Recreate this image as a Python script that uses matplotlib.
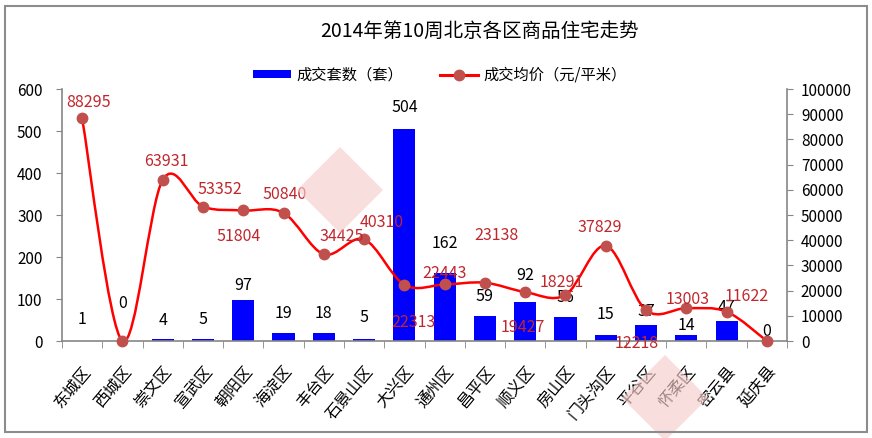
import numpy as np
import matplotlib
matplotlib.use("Agg")
import matplotlib.pyplot as plt
import matplotlib.transforms as mtransforms
from matplotlib.path import Path
from matplotlib.patches import PathPatch, Rectangle, Polygon
from matplotlib.lines import Line2D
from matplotlib.patches import Patch

plt.rcParams['font.family'] = ['Noto Sans CJK SC', 'DejaVu Sans']

# data
districts = ['东城区', '西城区', '崇文区', '宣武区', '朝阳区', '海淀区', '丰台区', '石景山区', '大兴区',
             '通州区', '昌平区', '顺义区', '房山区', '门头沟区', '平谷区', '怀柔区', '密云县', '延庆县']
deals = [1, 0, 4, 5, 97, 19, 18, 5, 504, 162, 59, 92, 56, 15, 37, 14, 47, 0]
prices = [88295, 0, 63931, 53352, 51804, 50840, 34425, 40310, 22313, 22443, 23138, 19427,
          18291, 37829, 12218, 13003, 11622, 0]
title = '2014年第10周北京各区商品住宅走势'

# label offsets in pixels (placement only)
bar_dy = [21, 38, 19, 19, 15, 20, 20, 21, 22, 29, 20, 27, 20, 20, 14, 10, 14, 9]
price_off = [(6, 16), None, (4, 18), (17, 17), (-5, -26), (1, 18), (18, 18), (18, 17), (9, -38),
             (0, 11), (12, 47), (-2, -35), (-4, 12), (-6, 18), (-9, -33), (1, 9), (20, 15), None]

price_col = '#C0272D'
axis_col = '#868686'

fig = plt.figure(figsize=(8.72, 4.38), dpi=100)
fig.patches.append(Rectangle((5 / 872, 6 / 438), 862 / 872, 426 / 438, transform=fig.transFigure,
                             fill=False, edgecolor='#8c8c8c', linewidth=1.5))

# faint watermark diamonds
for cx, cy in [(340, 190), (665, 398)]:
    pts = [((cx - 43) / 872, 1 - cy / 438), (cx / 872, 1 - (cy - 43) / 438),
           ((cx + 43) / 872, 1 - cy / 438), (cx / 872, 1 - (cy + 43) / 438)]
    fig.patches.append(Polygon(pts, closed=True, transform=fig.transFigure,
                               facecolor='#F7CDCD', edgecolor='none', alpha=0.65, zorder=0))

ax = fig.add_axes([62 / 872, 1 - 341 / 438, 725 / 872, 252 / 438])
ax.patch.set_alpha(0)
x = np.arange(len(districts))
ax.bar(x, deals, width=0.55, color='#0000FF', zorder=2)
ax.set_xlim(-0.5, len(districts) - 0.5)
ax.set_ylim(0, 600)
ax.set_yticks(range(0, 601, 100))
ax.set_xticks(x)
ax.set_xticklabels(districts, rotation=50, ha='right', va='top', rotation_mode='anchor', fontsize=11.5)
shift = mtransforms.ScaledTranslation(-6 / 100, 0, fig.dpi_scale_trans)
for lab in ax.get_xticklabels():
    lab.set_transform(lab.get_transform() + shift)
ax.set_xticks(np.arange(-0.5, len(districts), 1), minor=True)
ax.tick_params(axis='x', which='major', length=0, pad=16)
ax.tick_params(axis='x', which='minor', length=5, color=axis_col, direction='out')
ax.tick_params(axis='y', length=4, color=axis_col, labelsize=11, pad=10)
for s in ['top', 'right']:
    ax.spines[s].set_visible(False)
for s in ['left', 'bottom']:
    ax.spines[s].set_color(axis_col)
    ax.spines[s].set_linewidth(1.2)

for i, v in enumerate(deals):
    ax.annotate(str(v), (x[i], v), xytext=(0, bar_dy[i]), textcoords='offset pixels',
                ha='center', va='center', fontsize=11.5, color='black', zorder=5)

ax2 = ax.twinx()
ax2.set_ylim(0, 100000)
ax2.set_yticks(range(0, 100001, 10000))
ax2.tick_params(axis='y', length=4, color=axis_col, labelsize=11, pad=6)
for s in ['top', 'left', 'bottom']:
    ax2.spines[s].set_visible(False)
ax2.spines['right'].set_color(axis_col)
ax2.spines['right'].set_linewidth(1.2)

# smoothed line (Catmull-Rom as cubic Bezier through the data points)
P = np.column_stack([x, prices]).astype(float)
verts = [P[0]]
codes = [Path.MOVETO]
n = len(P)
for i in range(n - 1):
    p0 = P[max(i - 1, 0)]
    p1 = P[i]
    p2 = P[i + 1]
    p3 = P[min(i + 2, n - 1)]
    verts += [p1 + (p2 - p0) / 6, p2 - (p3 - p1) / 6, p2]
    codes += [Path.CURVE4] * 3
ax2.add_patch(PathPatch(Path(verts, codes), facecolor='none', edgecolor='#FF0000', linewidth=1.8,
                        zorder=3, clip_on=False))
ax2.plot(x, prices, linestyle='none', marker='o', markersize=7.5, color='#C0504D', zorder=4,
         clip_on=False)

for i, v in enumerate(prices):
    if price_off[i] is None:
        continue
    ax2.annotate(str(v), (x[i], v), xytext=price_off[i], textcoords='offset pixels',
                 ha='center', va='center', fontsize=11.5, color=price_col, zorder=5)

fig.text(480 / 872, 1 - 31 / 438, title, ha='center', va='center', fontsize=14)

handles = [Patch(facecolor='#0000FF'),
           Line2D([], [], color='#FF0000', linewidth=2.2, marker='o', markersize=7.5,
                  markerfacecolor='#C0504D', markeredgecolor='#C0504D')]
fig.legend(handles, ['成交套数（套）', '成交均价（元/平米）'], loc='center',
           bbox_to_anchor=(440 / 872, 1 - 75 / 438), ncol=2, frameon=False, fontsize=11,
           handlelength=2.5, handleheight=0.5, columnspacing=2.4, handletextpad=0.35)

fig.savefig('out.png', dpi=100)
